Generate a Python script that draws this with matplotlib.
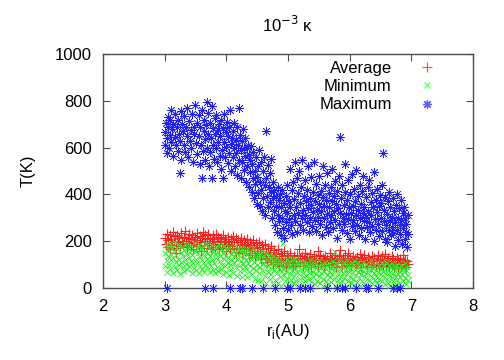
import matplotlib
matplotlib.use("Agg")
import matplotlib.pyplot as plt
import numpy as np

plt.rcParams['font.family'] = ['Liberation Sans', 'DejaVu Sans']

title = "10$^{-3}$ κ"
xlabel = "r$_\\mathregular{i}$(AU)"
ylabel = "T(K)"
series_names = ["Average", "Minimum", "Maximum"]
xticks = [2, 3, 4, 5, 6, 7, 8]
yticks = [0, 200, 400, 600, 800, 1000]

# Maximum temperature points (x in AU, T in K)
max_pts = [
 (3.00,612),(3.01,668),(3.02,705),(3.03,575),(3.04,640),(3.05,732),(3.06,690),(3.07,598),(3.08,655),(3.09,720),
 (3.10,625),(3.11,760),(3.12,680),(3.13,562),(3.14,700),(3.16,645),(3.17,742),(3.18,610),(3.20,690),(3.21,585),
 (3.22,718),(3.24,660),(3.25,630),(3.26,755),(3.27,545),(3.28,700),(3.29,672),(3.25,491),
 (3.31,612),(3.32,735),(3.33,580),(3.34,688),(3.36,650),(3.37,770),(3.38,558),(3.40,712),(3.41,628),(3.42,675),
 (3.43,598),(3.45,745),(3.46,540),(3.47,690),(3.48,660),(3.49,782),
 (3.51,618),(3.52,705),(3.53,572),(3.55,740),(3.56,650),(3.57,530),(3.58,688),(3.59,612),(3.60,470),(3.61,762),
 (3.62,585),(3.63,670),(3.64,720),(3.65,548),(3.66,635),(3.67,695),(3.68,795),(3.69,600),
 (3.70,658),(3.71,750),(3.72,520),(3.73,705),(3.74,580),(3.75,640),(3.76,778),(3.77,470),(3.78,612),(3.79,685),
 (3.80,552),(3.81,725),(3.82,660),(3.83,598),(3.84,738),(3.85,540),(3.86,675),(3.87,622),(3.88,700),(3.89,565),
 (3.90,648),(3.91,720),(3.92,510),(3.93,590),(3.94,682),(3.95,470),(3.96,625),(3.97,745),(3.98,560),(3.99,665),
 (4.00,602),(4.01,708),(4.02,535),(4.03,650),(4.04,578),(4.05,690),(4.06,760),(4.07,615),(4.08,500),(4.09,640),
 (4.10,560),(4.11,672),(4.12,598),(4.13,705),(4.14,520),(4.15,632),(4.16,575),(4.17,690),(4.18,485),(4.19,610),
 (4.20,770),(4.21,548),(4.22,655),(4.23,590),(4.24,470),(4.25,628),(4.26,540),(4.27,680),(4.28,505),(4.29,600),
 (4.30,562),(4.31,640),(4.32,455),(4.33,598),(4.34,520),(4.35,612),(4.36,430),(4.37,570),(4.38,495),(4.39,548),
 (4.40,605),(4.41,410),(4.42,530),(4.43,470),(4.44,580),(4.45,385),(4.46,500),(4.47,445),(4.48,560),(4.49,360),
 (4.50,475),(4.51,520),(4.52,405),(4.53,590),(4.54,350),(4.55,455),(4.56,540),(4.57,420),(4.58,330),(4.59,498),
 (4.60,385),(4.61,560),(4.62,440),(4.63,312),(4.64,671),(4.65,470),(4.66,395),(4.67,525),(4.68,345),(4.69,430),
 (4.70,490),(4.71,368),(4.72,552),(4.73,410),(4.74,300),(4.75,455),(4.76,385),(4.77,330),(4.78,420),(4.79,270),
 (4.80,395),(4.81,350),(4.82,240),(4.83,430),(4.84,310),(4.85,375),(4.86,285),(4.87,400),(4.88,225),(4.89,345),
 (4.90,300),(4.91,420),(4.92,258),(4.93,365),(4.94,215),(4.95,330),(4.96,395),(4.97,280),(4.98,440),(4.99,320),
 (5.00,250),(5.01,372),(5.02,295),(5.03,510),(5.04,345),(5.05,270),(5.06,418),(5.07,230),(5.08,455),(5.09,310),
 (5.10,380),(5.11,540),(5.12,285),(5.13,345),(5.14,470),(5.15,240),(5.16,405),(5.17,320),(5.18,500),(5.19,268),
 (5.20,362),(5.21,430),(5.22,298),(5.23,545),(5.24,335),(5.25,250),(5.26,395),(5.27,460),(5.28,310),(5.29,372),
 (5.30,280),(5.31,420),(5.32,520),(5.33,340),(5.34,238),(5.35,385),(5.36,300),(5.37,475),(5.38,355),(5.39,265),
 (5.40,410),(5.41,325),(5.42,540),(5.43,290),(5.44,370),(5.45,445),(5.46,245),(5.47,335),(5.48,398),(5.49,305),
 (5.50,360),(5.51,480),(5.52,272),(5.53,415),(5.54,330),(5.55,225),(5.56,390),(5.57,520),(5.58,300),(5.59,350),
 (5.60,440),(5.61,262),(5.62,375),(5.63,318),(5.64,490),(5.65,240),(5.66,405),(5.67,345),(5.68,280),(5.69,430),
 (5.70,310),(5.71,370),(5.72,510),(5.73,255),(5.74,395),(5.75,330),(5.76,458),(5.77,290),(5.78,360),(5.79,215),
 (5.80,415),(5.81,340),(5.82,275),(5.83,480),(5.84,645),(5.85,320),(5.86,385),(5.87,250),(5.88,440),(5.89,300),
 (5.90,355),(5.91,272),(5.92,530),(5.93,410),(5.94,318),(5.95,235),(5.96,378),(5.97,460),(5.98,295),(5.99,345),
 (6.00,208),(6.01,400),(6.02,320),(6.03,265),(6.04,488),(6.05,350),(6.06,290),(6.07,425),(6.08,245),(6.09,372),
 (6.10,310),(6.11,505),(6.12,270),(6.13,395),(6.14,335),(6.15,228),(6.16,440),(6.17,300),(6.18,360),(6.19,255),
 (6.20,415),(6.21,322),(6.22,480),(6.23,285),(6.24,345),(6.25,210),(6.26,390),(6.27,305),(6.28,262),(6.29,430),
 (6.30,330),(6.31,280),(6.32,462),(6.33,238),(6.34,368),(6.35,310),(6.36,405),(6.37,265),(6.38,345),(6.39,200),
 (6.40,495),(6.41,295),(6.42,378),(6.43,250),(6.44,325),(6.45,425),(6.46,275),(6.47,350),(6.48,222),(6.49,398),
 (6.50,300),(6.51,362),(6.52,245),(6.53,440),(6.54,577),(6.55,285),(6.56,335),(6.57,210),(6.58,390),(6.59,268),
 (6.60,318),(6.61,195),(6.62,372),(6.63,248),(6.64,410),(6.65,292),(6.66,345),(6.67,225),(6.68,305),(6.69,260),
 (6.70,385),(6.71,235),(6.72,330),(6.73,280),(6.74,180),(6.75,355),(6.76,250),(6.77,400),(6.78,300),(6.79,205),
 (6.80,340),(6.81,270),(6.82,230),(6.83,375),(6.84,290),(6.85,190),(6.86,320),(6.87,255),(6.88,345),(6.89,210),
 (6.90,300),(6.91,240),(6.92,275),(6.93,175),(6.94,310),(6.95,230),
]
# Maximum values lying at T = 0
max_zero_x = [3.03, 3.65, 3.78, 4.06, 4.22, 4.25, 4.41, 4.60, 4.79, 4.98, 5.03, 5.19,
              5.27, 5.35, 5.63, 5.79, 5.87, 5.92, 6.11, 6.27, 6.30, 6.46, 6.70, 6.76, 6.81]

min_pts = [
 (3.00,150),(3.01,95),(3.02,185),(3.03,120),(3.04,70),(3.05,165),(3.06,135),(3.07,100),(3.08,190),(3.09,82),
 (3.10,145),(3.11,118),(3.12,172),(3.13,66),(3.14,130),(3.15,158),(3.16,90),(3.17,195),(3.18,110),(3.19,140),
 (3.20,78),(3.21,168),(3.22,125),(3.23,98),(3.24,182),(3.25,60),(3.26,150),(3.27,112),(3.28,176),(3.29,88),
 (3.30,135),(3.31,162),(3.32,72),(3.33,120),(3.34,188),(3.35,102),(3.36,145),(3.37,80),(3.38,170),(3.39,128),
 (3.40,92),(3.41,155),(3.42,115),(3.43,178),(3.44,65),(3.45,140),(3.46,105),(3.47,192),(3.48,85),(3.49,160),
 (3.50,125),(3.51,75),(3.52,170),(3.53,108),(3.54,150),(3.55,62),(3.56,185),(3.57,132),(3.58,96),(3.59,165),
 (3.60,118),(3.61,80),(3.62,178),(3.63,142),(3.64,70),(3.65,158),(3.66,100),(3.67,190),(3.68,125),(3.69,88),
 (3.70,148),(3.71,112),(3.72,172),(3.73,68),(3.74,135),(3.75,95),(3.76,182),(3.77,120),(3.78,78),(3.79,160),
 (3.80,105),(3.81,145),(3.82,62),(3.83,175),(3.84,128),(3.85,90),(3.86,155),(3.87,72),(3.88,185),(3.89,115),
 (3.90,138),(3.91,82),(3.92,168),(3.93,100),(3.94,58),(3.95,150),(3.96,122),(3.97,178),(3.98,92),(3.99,140),
 (4.00,70),(4.01,162),(4.02,110),(4.03,130),(4.04,55),(4.05,175),(4.06,98),(4.07,145),(4.08,80),(4.09,120),
 (4.10,160),(4.11,65),(4.12,135),(4.13,105),(4.14,180),(4.15,88),(4.16,148),(4.17,52),(4.18,125),(4.19,168),
 (4.20,95),(4.21,140),(4.22,72),(4.23,158),(4.24,115),(4.25,48),(4.26,170),(4.27,102),(4.28,132),(4.29,78),
 (4.30,150),(4.31,90),(4.32,120),(4.33,45),(4.34,165),(4.35,108),(4.36,138),(4.37,68),(4.38,155),(4.39,95),
 (4.40,125),(4.41,58),(4.42,145),(4.43,85),(4.44,170),(4.45,110),(4.46,40),(4.47,132),(4.48,75),(4.49,150),
 (4.50,100),(4.51,35),(4.52,128),(4.53,62),(4.54,145),(4.55,88),(4.56,115),(4.57,28),(4.58,160),(4.59,72),
 (4.60,105),(4.61,135),(4.62,50),(4.63,92),(4.64,148),(4.65,22),(4.66,118),(4.67,68),(4.68,100),(4.69,140),
 (4.70,40),(4.71,85),(4.72,125),(4.73,58),(4.74,105),(4.75,15),(4.76,138),(4.77,78),(4.78,112),(4.79,35),
 (4.80,95),(4.81,130),(4.82,62),(4.83,20),(4.84,108),(4.85,80),(4.86,120),(4.87,45),(4.88,98),(4.89,10),
 (4.90,72),(4.91,115),(4.92,192),(4.93,55),(4.94,90),(4.95,28),(4.96,105),(4.97,68),(4.98,125),(4.99,40),
 (5.00,88),(5.01,12),(5.02,110),(5.03,60),(5.04,95),(5.05,35),(5.06,118),(5.07,75),(5.08,20),(5.09,100),
 (5.10,50),(5.11,85),(5.12,122),(5.13,30),(5.14,70),(5.15,105),(5.16,8),(5.17,92),(5.18,58),(5.19,115),
 (5.20,40),(5.21,80),(5.22,100),(5.23,18),(5.24,65),(5.25,112),(5.26,48),(5.27,90),(5.28,28),(5.29,75),
 (5.30,108),(5.31,55),(5.32,5),(5.33,95),(5.34,38),(5.35,82),(5.36,120),(5.37,62),(5.38,25),(5.39,100),
 (5.40,70),(5.41,45),(5.42,115),(5.43,15),(5.44,88),(5.45,58),(5.46,105),(5.47,32),(5.48,78),(5.49,95),
 (5.50,50),(5.51,118),(5.52,22),(5.53,85),(5.54,65),(5.55,102),(5.56,40),(5.57,10),(5.58,90),(5.59,72),
 (5.60,112),(5.61,30),(5.62,80),(5.63,55),(5.64,98),(5.65,18),(5.66,68),(5.67,108),(5.68,45),(5.69,85),
 (5.70,25),(5.71,95),(5.72,60),(5.73,115),(5.74,38),(5.75,75),(5.76,155),(5.77,8),(5.78,88),(5.79,52),
 (5.80,102),(5.81,35),(5.82,70),(5.83,120),(5.84,15),(5.85,82),(5.86,48),(5.87,98),(5.88,28),(5.89,65),
 (5.90,110),(5.91,42),(5.92,78),(5.93,5),(5.94,92),(5.95,58),(5.96,118),(5.97,30),(5.98,72),(5.99,100),
 (6.00,48),(6.01,85),(6.02,20),(6.03,105),(6.04,62),(6.05,38),(6.06,95),(6.07,12),(6.08,75),(6.09,115),
 (6.10,55),(6.11,88),(6.12,25),(6.13,68),(6.14,108),(6.15,42),(6.16,80),(6.17,10),(6.18,98),(6.19,60),
 (6.20,32),(6.21,112),(6.22,72),(6.23,50),(6.24,90),(6.25,18),(6.26,65),(6.27,102),(6.28,38),(6.29,82),
 (6.30,8),(6.31,58),(6.32,95),(6.33,28),(6.34,75),(6.35,118),(6.36,45),(6.37,85),(6.38,15),(6.39,62),
 (6.40,100),(6.41,35),(6.42,78),(6.43,52),(6.44,110),(6.45,22),(6.46,68),(6.47,92),(6.48,40),(6.49,5),
 (6.50,85),(6.51,58),(6.52,105),(6.53,28),(6.54,72),(6.55,48),(6.56,95),(6.57,15),(6.58,62),(6.59,112),
 (6.60,38),(6.61,80),(6.62,20),(6.63,98),(6.64,55),(6.65,70),(6.66,10),(6.67,88),(6.68,45),(6.69,108),
 (6.70,30),(6.71,65),(6.72,92),(6.73,50),(6.74,12),(6.75,78),(6.76,100),(6.77,35),(6.78,60),(6.79,85),
 (6.80,22),(6.81,72),(6.82,48),(6.83,95),(6.84,8),(6.85,58),(6.86,82),(6.87,30),(6.88,68),(6.89,105),
 (6.90,42),(6.91,78),(6.92,18),(6.93,90),(6.94,55),(6.95,35),
]

avg_pts = [
 (3.00,215),(3.02,190),(3.03,232),(3.05,175),(3.06,205),(3.08,225),(3.09,168),
 (3.10,210),(3.12,185),(3.13,238),(3.15,198),(3.17,222),(3.18,172),(3.19,150),
 (3.20,228),(3.22,195),(3.24,212),(3.25,180),(3.27,235),(3.28,202),
 (3.30,188),(3.31,220),(3.33,245),(3.35,200),(3.36,175),(3.38,215),(3.39,192),
 (3.40,230),(3.42,182),(3.43,208),(3.45,225),(3.46,165),(3.48,198),(3.49,218),
 (3.50,190),(3.52,235),(3.53,205),(3.55,178),(3.57,222),(3.58,195),(3.59,160),
 (3.60,212),(3.62,240),(3.63,185),(3.65,200),(3.66,225),(3.68,172),(3.69,208),
 (3.70,230),(3.72,192),(3.73,215),(3.75,168),(3.76,202),(3.78,228),(3.79,185),
 (3.80,210),(3.82,175),(3.83,232),(3.85,195),(3.86,218),(3.88,165),(3.89,200),
 (3.90,188),(3.92,215),(3.93,172),(3.95,225),(3.96,195),(3.98,208),(3.99,160),
 (4.00,200),(4.02,178),(4.03,218),(4.05,190),(4.06,165),(4.08,210),(4.09,185),
 (4.10,222),(4.12,172),(4.13,198),(4.15,155),(4.16,212),(4.18,182),(4.19,205),
 (4.20,168),(4.22,195),(4.23,215),(4.25,150),(4.26,185),(4.28,205),(4.29,172),
 (4.30,190),(4.32,158),(4.33,210),(4.35,178),(4.36,140),(4.38,198),(4.39,165),
 (4.40,185),(4.42,150),(4.43,205),(4.45,170),(4.46,132),(4.48,192),(4.49,158),
 (4.50,175),(4.52,140),(4.53,198),(4.55,160),(4.56,125),(4.58,182),(4.59,150),
 (4.60,168),(4.62,130),(4.63,190),(4.65,145),(4.66,112),(4.68,172),(4.69,138),
 (4.70,155),(4.72,120),(4.73,180),(4.75,135),(4.76,102),(4.78,162),(4.79,128),
 (4.80,145),(4.82,110),(4.83,168),(4.85,125),(4.86,95),(4.88,150),(4.89,118),
 (4.90,138),(4.92,100),(4.93,160),(4.95,120),(4.96,90),(4.98,142),(4.99,112),
 (5.00,130),(5.02,105),(5.04,148),(5.06,118),(5.08,92),(5.09,135),
 (5.10,125),(5.12,98),(5.14,140),(5.16,112),(5.18,165),(5.19,128),
 (5.20,108),(5.22,135),(5.24,95),(5.26,122),(5.28,150),(5.29,115),
 (5.30,132),(5.32,100),(5.34,118),(5.36,145),(5.38,88),(5.39,125),
 (5.40,112),(5.42,138),(5.44,102),(5.46,128),(5.48,158),(5.49,95),
 (5.50,120),(5.52,142),(5.54,105),(5.56,130),(5.58,92),(5.59,115),
 (5.60,135),(5.62,110),(5.64,125),(5.66,98),(5.68,148),(5.69,118),
 (5.70,102),(5.72,130),(5.74,115),(5.76,140),(5.78,90),(5.79,122),
 (5.80,108),(5.82,135),(5.84,162),(5.86,118),(5.88,95),(5.89,128),
 (5.90,112),(5.92,140),(5.94,100),(5.96,125),(5.98,150),(5.99,105),
 (6.00,130),(6.02,95),(6.04,118),(6.06,138),(6.08,108),(6.09,122),
 (6.10,98),(6.12,132),(6.14,112),(6.16,145),(6.18,90),(6.19,120),
 (6.20,128),(6.22,105),(6.24,140),(6.26,115),(6.28,95),(6.29,132),
 (6.30,110),(6.32,125),(6.34,88),(6.36,138),(6.38,102),(6.39,118),
 (6.40,130),(6.42,98),(6.44,115),(6.46,142),(6.48,92),(6.49,122),
 (6.50,108),(6.52,135),(6.54,100),(6.56,120),(6.58,145),(6.59,95),
 (6.60,115),(6.62,128),(6.64,88),(6.66,110),(6.68,138),(6.69,100),
 (6.70,122),(6.72,95),(6.74,112),(6.76,130),(6.78,85),(6.79,118),
 (6.80,105),(6.82,125),(6.84,92),(6.86,140),(6.88,110),(6.89,98),
 (6.90,120),(6.92,88),(6.93,115),(6.95,102),
]

avg = np.array(avg_pts)
mn = np.array(min_pts)
mx = np.array(max_pts)
mx_x = np.concatenate([mx[:, 0], max_zero_x])
mx_y = np.concatenate([mx[:, 1], np.zeros(len(max_zero_x))])

fig = plt.figure(figsize=(5.04, 3.6), dpi=100)
ax = fig.add_axes([103/504, 1-288/360, 370/504, 234/360])

ms = 6.5
ax.plot(avg[:, 0], avg[:, 1], ls='none', marker='+', ms=ms, mew=0.8,
        color='#ff2020', label=series_names[0])
ax.plot(mn[:, 0], mn[:, 1], ls='none', marker='x', ms=ms*0.75, mew=0.6,
        color='#20ee20', label=series_names[1])
ax.plot(mx_x, mx_y, ls='none', marker=(8, 2, 0), ms=ms, mew=0.5,
        color='#2020ff', label=series_names[2], clip_on=False)

ax.set_xlim(2, 8)
ax.set_ylim(0, 1000)
ax.set_xticks(xticks)
ax.set_yticks(yticks)
ax.tick_params(direction='in', length=5, width=0.8, top=True, right=True,
               labelsize=12, pad=8, color='0.3')
for s in ax.spines.values():
    s.set_color('0.3')
    s.set_linewidth(1.0)
    s.set_zorder(1)

ax.set_xlabel(xlabel, fontsize=12, labelpad=6)
ax.set_ylabel(ylabel, fontsize=12, labelpad=14)
ax.set_title(title, fontsize=12, pad=16)

leg = ax.legend(loc='upper right', bbox_to_anchor=(0.965, 1.021), frameon=False,
                markerfirst=False, fontsize=12, handlelength=2.6,
                handletextpad=0.8, labelspacing=0.2, borderaxespad=0.3)
for h, c in zip(leg.legend_handles, ['#ff5050', '#60ff60', '#6060ff']):
    h.set_color(c)
    h.set_markeredgewidth(0.9)

fig.savefig('out.png', dpi=100)
